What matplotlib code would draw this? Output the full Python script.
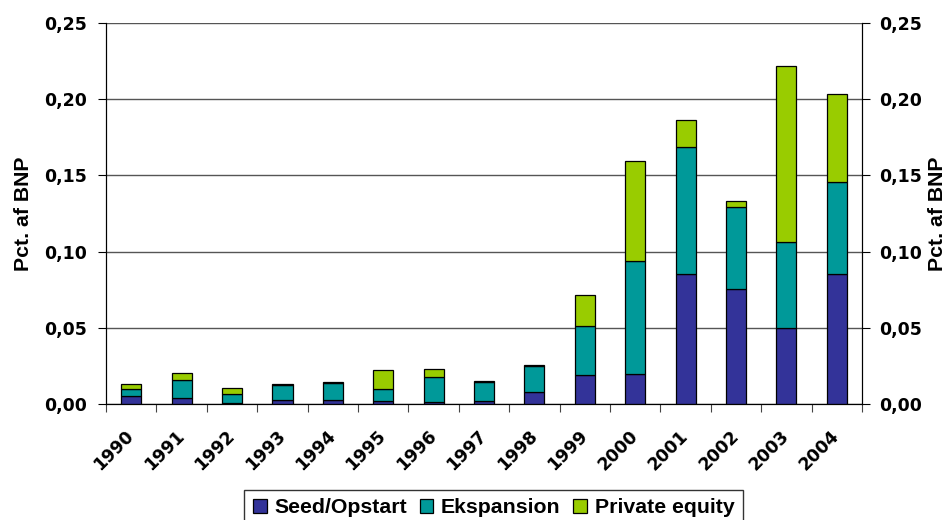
import matplotlib.pyplot as plt
from matplotlib.ticker import FuncFormatter, MultipleLocator
from matplotlib.transforms import ScaledTranslation
import numpy as np

plt.rcParams['font.family'] = ['DejaVu Sans']
plt.rcParams['font.weight'] = 'bold'

years = ["1990", "1991", "1992", "1993", "1994", "1995", "1996", "1997",
         "1998", "1999", "2000", "2001", "2002", "2003", "2004"]
seed = [0.0053, 0.0042, 0.0007, 0.0029, 0.0029, 0.0018, 0.0013, 0.0020,
        0.0079, 0.0190, 0.0197, 0.0853, 0.0755, 0.0497, 0.0853]
ekspansion = [0.0047, 0.0114, 0.0061, 0.0096, 0.0109, 0.0083, 0.0167, 0.0122,
              0.0168, 0.0322, 0.0739, 0.0831, 0.0535, 0.0566, 0.0604]
private_equity = [0.0034, 0.0047, 0.0037, 0.0003, 0.0003, 0.0125, 0.0052, 0.0006,
                  0.0007, 0.0205, 0.0658, 0.0182, 0.0040, 0.1155, 0.0577]

series = [("Seed/Opstart", seed, "#333399"),
          ("Ekspansion", ekspansion, "#009999"),
          ("Private equity", private_equity, "#99CC00")]

fs = 12.5
label_font = {"family": ["Liberation Sans", "DejaVu Sans"], "size": 15.3,
              "weight": "bold"}

fig = plt.figure(figsize=(9.51, 5.2), dpi=100)
ax = fig.add_axes([0.1115, 0.2231, 0.7949, 0.7327])

x = np.arange(len(years))
bottom = np.zeros(len(years))
for name, vals, color in series:
    ax.bar(x, vals, width=0.4, bottom=bottom, color=color, edgecolor="black",
           linewidth=0.9, label=name, zorder=3)
    bottom += np.array(vals)

ax.set_xlim(-0.5, len(years) - 0.5)
ax.set_ylim(0, 0.25)
ax.yaxis.set_major_locator(MultipleLocator(0.05))
comma = FuncFormatter(lambda v, p: f"{v:.2f}".replace(".", ","))
ax.yaxis.set_major_formatter(comma)
ax.grid(axis="y", color="#555555", linewidth=1, zorder=0)
ax.set_axisbelow(True)

# ticks on the category boundaries, year labels under each bar
ax.set_xticks(np.arange(-0.5, len(years), 1.0))
ax.set_xticklabels([])
ax.set_xticks(x, minor=True)
ax.set_xticklabels(years, minor=True, rotation=45, ha="right", va="center",
                   rotation_mode="anchor", fontsize=fs, fontweight="bold")
shift = ScaledTranslation(-15 / 72, 0, fig.dpi_scale_trans)
for lbl in ax.get_xticklabels(minor=True):
    lbl.set_transform(lbl.get_transform() + shift)
ax.tick_params(axis="x", which="minor", length=0, pad=21)
ax.tick_params(axis="x", which="major", length=6, direction="out", color="#444444")
ax.tick_params(axis="y", length=6, direction="out", labelsize=fs, pad=8)

ax.spines["top"].set_visible(False)
ax.set_ylabel("Pct. af BNP", fontdict=label_font, labelpad=8)

ax2 = ax.twinx()
ax2.set_ylim(0, 0.25)
ax2.yaxis.set_major_locator(MultipleLocator(0.05))
ax2.yaxis.set_major_formatter(comma)
ax2.tick_params(axis="y", length=6, direction="out", labelsize=fs, pad=6)
ax2.spines["top"].set_visible(False)
ax2.set_ylabel("Pct. af BNP", fontdict=label_font, labelpad=5)

leg = fig.legend(loc="upper center", bbox_to_anchor=(0.519, 0.0577), ncol=3,
                 frameon=True, fancybox=False, edgecolor="black",
                 prop=label_font, handlelength=0.65, handleheight=0.6,
                 handletextpad=0.35, columnspacing=0.6,
                 borderpad=0.4, borderaxespad=0)
leg.get_frame().set_linewidth(1)

fig.savefig("out.png", dpi=100)
